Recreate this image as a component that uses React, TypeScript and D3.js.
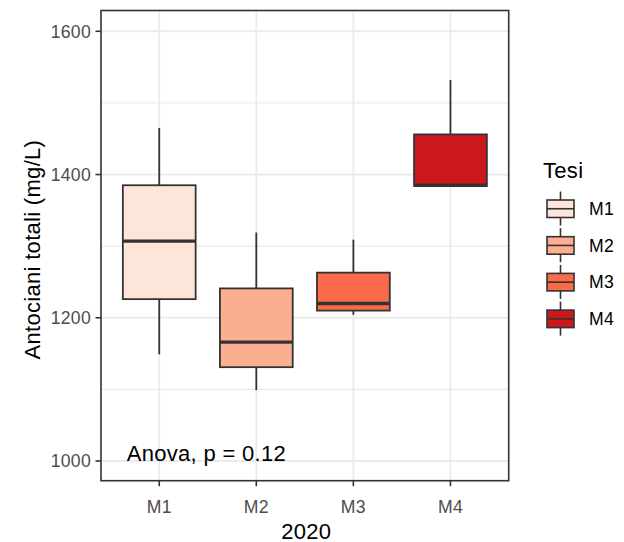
import React from "react";
import * as d3 from "d3";

const categories = ["M1", "M2", "M3", "M4"];
const whiskerLow = [1149, 1099, 1204, 1384];
const q1 = [1226, 1131, 1210, 1384];
const medians = [1307, 1166, 1220, 1385];
const q3 = [1385, 1241, 1263, 1456];
const whiskerHigh = [1465, 1319, 1309, 1532];
const fills = ["#FEE5D9", "#FCAE91", "#FB6A4A", "#CB181D"];
const yTicks = [1000, 1200, 1400, 1600];
const yMinor = [1100, 1300, 1500];
const annotation = "Anova, p = 0.12";
const yTitle = "Antociani totali (mg/L)";
const xTitle = "2020";
const legendTitle = "Tesi";

const W = 624;
const H = 542;
const FONT = "'Liberation Sans', Arial, sans-serif";
const LS = 0.3;

export default function App() {
  const left = 101, right = 508.7, top = 10.5, bottom = 480.7;
  const x = d3.scaleLinear().domain([0.4, 4.6]).range([left, right]);
  const y = d3.scaleLinear().domain([972.5, 1629]).range([bottom, top]);
  const bw = x(1.75) - x(1);
  const boxColor = "#333333";

  const data = categories.map((c, i) => ({
    c, i, lo: whiskerLow[i], q1: q1[i], med: medians[i], q3: q3[i], hi: whiskerHigh[i], fill: fills[i],
  }));

  const legX = 547, legKeyW = 27, legTop = 191.5, legStep = 36.7;

  return (
    <svg width={W} height={H} style={{ position: "absolute", left: 0, top: 0, background: "#fff" }}>
      <rect x={0} y={0} width={W} height={H} fill="#fff" />
      {yMinor.map((t) => (
        <line key={"mn" + t} x1={left} x2={right} y1={y(t)} y2={y(t)} stroke="#EBEBEB" strokeWidth={1.2} />
      ))}
      {yTicks.map((t) => (
        <line key={"mj" + t} x1={left} x2={right} y1={y(t)} y2={y(t)} stroke="#EBEBEB" strokeWidth={1.8} />
      ))}
      {categories.map((c, i) => (
        <line key={"vg" + c} x1={x(i + 1)} x2={x(i + 1)} y1={top} y2={bottom} stroke="#EBEBEB" strokeWidth={1.8} />
      ))}
      {data.map((d) => {
        const cx = x(d.i + 1);
        return (
          <g key={d.c}>
            <line x1={cx} x2={cx} y1={y(d.hi)} y2={y(d.q3)} stroke={boxColor} strokeWidth={1.8} />
            <line x1={cx} x2={cx} y1={y(d.q1)} y2={y(d.lo)} stroke={boxColor} strokeWidth={1.8} />
            <rect x={cx - bw / 2} y={y(d.q3)} width={bw} height={y(d.q1) - y(d.q3)} fill={d.fill} stroke={boxColor} strokeWidth={1.8} />
            <line x1={cx - bw / 2} x2={cx + bw / 2} y1={y(d.med)} y2={y(d.med)} stroke={boxColor} strokeWidth={3.4} />
          </g>
        );
      })}
      <text x={x(1) - 32.5} y={y(1000)} fontFamily={FONT} fontSize={22} letterSpacing={LS} fill="#000">{annotation}</text>
      <rect x={left} y={top} width={right - left} height={bottom - top} fill="none" stroke="#333333" strokeWidth={1.6} />
      {yTicks.map((t) => (
        <g key={"yt" + t}>
          <line x1={left - 5.5} x2={left} y1={y(t)} y2={y(t)} stroke="#333333" strokeWidth={1.6} />
          <text x={left - 10} y={y(t)} dy="0.36em" textAnchor="end" fontFamily={FONT} fontSize={17.6} letterSpacing={LS} fill="#4D4D4D">{t}</text>
        </g>
      ))}
      {categories.map((c, i) => (
        <g key={"xt" + c}>
          <line x1={x(i + 1)} x2={x(i + 1)} y1={bottom} y2={bottom + 5.5} stroke="#333333" strokeWidth={1.6} />
          <text x={x(i + 1)} y={512.5} textAnchor="middle" fontFamily={FONT} fontSize={17.6} letterSpacing={LS} fill="#4D4D4D">{c}</text>
        </g>
      ))}
      <text x={(left + right) / 2 + 1.5} y={538.5} textAnchor="middle" fontFamily={FONT} fontSize={22} letterSpacing={LS} fill="#000">{xTitle}</text>
      <text transform={`translate(${40},${(top + bottom) / 2 + 4})rotate(-90)`} textAnchor="middle" fontFamily={FONT} fontSize={22} letterSpacing={LS} fill="#000">{yTitle}</text>
      <text x={543} y={177.5} fontFamily={FONT} fontSize={22} letterSpacing={LS} fill="#000">{legendTitle}</text>
      {categories.map((c, i) => {
        const ky = legTop + i * legStep;
        const cx = legX + legKeyW / 2;
        return (
          <g key={"lg" + c}>
            <line x1={cx} x2={cx} y1={ky} y2={ky + 34} stroke={boxColor} strokeWidth={1.6} />
            <rect x={legX} y={ky + 8.5} width={legKeyW} height={17.5} fill={fills[i]} stroke={boxColor} strokeWidth={1.6} />
            <line x1={legX} x2={legX + legKeyW} y1={ky + 17.25} y2={ky + 17.25} stroke={boxColor} strokeWidth={1.6} />
            <text x={589} y={ky + 17.25} dy="0.36em" fontFamily={FONT} fontSize={17.6} letterSpacing={LS} fill="#000">{c}</text>
          </g>
        );
      })}
    </svg>
  );
}
